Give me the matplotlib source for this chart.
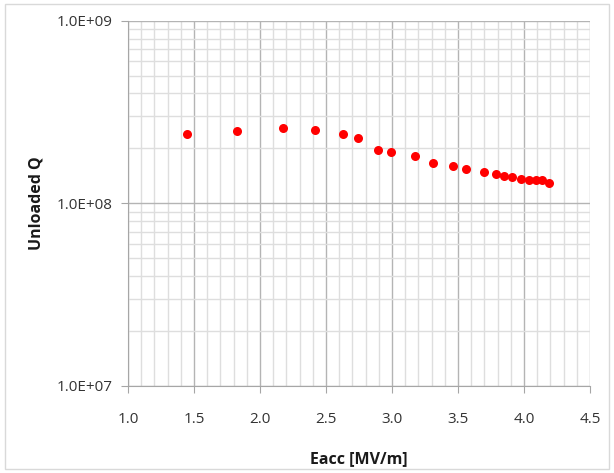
import matplotlib
matplotlib.use("Agg")
import matplotlib.pyplot as plt
from matplotlib.ticker import FixedLocator, MultipleLocator, FuncFormatter, LogLocator, NullFormatter
from matplotlib.patches import Rectangle

# accelerating field [MV/m] and unloaded Q
eacc = [1.445, 1.828, 2.174, 2.414, 2.629, 2.742, 2.89, 2.995, 3.174, 3.311,
        3.46, 3.558, 3.695, 3.79, 3.85, 3.91, 3.98, 4.04, 4.09, 4.136, 4.19]
q0 = [2.41e8, 2.50e8, 2.60e8, 2.52e8, 2.39e8, 2.29e8, 1.95e8, 1.91e8, 1.81e8, 1.67e8,
      1.61e8, 1.55e8, 1.49e8, 1.45e8, 1.41e8, 1.39e8, 1.36e8, 1.34e8, 1.34e8, 1.35e8, 1.30e8]

x_ticks = [1.0, 1.5, 2.0, 2.5, 3.0, 3.5, 4.0, 4.5]
y_ticks = [1e7, 1e8, 1e9]

plt.rcParams['font.family'] = ['Open Sans', 'DejaVu Sans']

fig = plt.figure(figsize=(6.14, 4.73), dpi=100)
# faint border around the chart area
fig.patches.append(Rectangle((0.008, 0.008), 0.984, 0.984, transform=fig.transFigure,
                             fill=False, edgecolor='#d9d9d9', linewidth=1))

ax = fig.add_axes([0.2085, 0.184, 0.7525, 0.772])
ax.set_yscale('log')
ax.set_xlim(1.0, 4.5)
ax.set_ylim(1e7, 1e9)

ax.xaxis.set_major_locator(FixedLocator(x_ticks))
ax.xaxis.set_minor_locator(MultipleLocator(0.1))
ax.yaxis.set_major_locator(FixedLocator(y_ticks))
ax.yaxis.set_minor_locator(LogLocator(base=10, subs=range(2, 10)))
ax.yaxis.set_minor_formatter(NullFormatter())
ax.xaxis.set_major_formatter(FuncFormatter(lambda v, p: f"{v:.1f}"))
ax.yaxis.set_major_formatter(FuncFormatter(lambda v, p: f"{v:.1E}"))

ax.grid(True, which='major', color='#b4b4b4', linewidth=1)
ax.grid(True, which='minor', color='#dedede', linewidth=1)
ax.set_axisbelow(True)

for side in ['top', 'right']:
    ax.spines[side].set_visible(False)
for side in ['left', 'bottom']:
    ax.spines[side].set_color('#a6a6a6')

ax.tick_params(which='major', length=5, color='#a6a6a6', labelsize=11, labelcolor='#333333', pad=14)
ax.tick_params(axis='y', which='major', pad=6)
ax.tick_params(which='minor', length=0)

ax.plot(eacc, q0, 'o', color='#ff0000', markersize=6.5, markeredgewidth=0, zorder=3)

ax.set_xlabel('Eacc [MV/m]', fontsize=11.5, fontweight='bold', color='#1a1a1a', labelpad=17)
ax.set_ylabel('Unloaded Q', fontsize=11.5, fontweight='bold', color='#1a1a1a', labelpad=9)

fig.savefig('out.png', dpi=100)
